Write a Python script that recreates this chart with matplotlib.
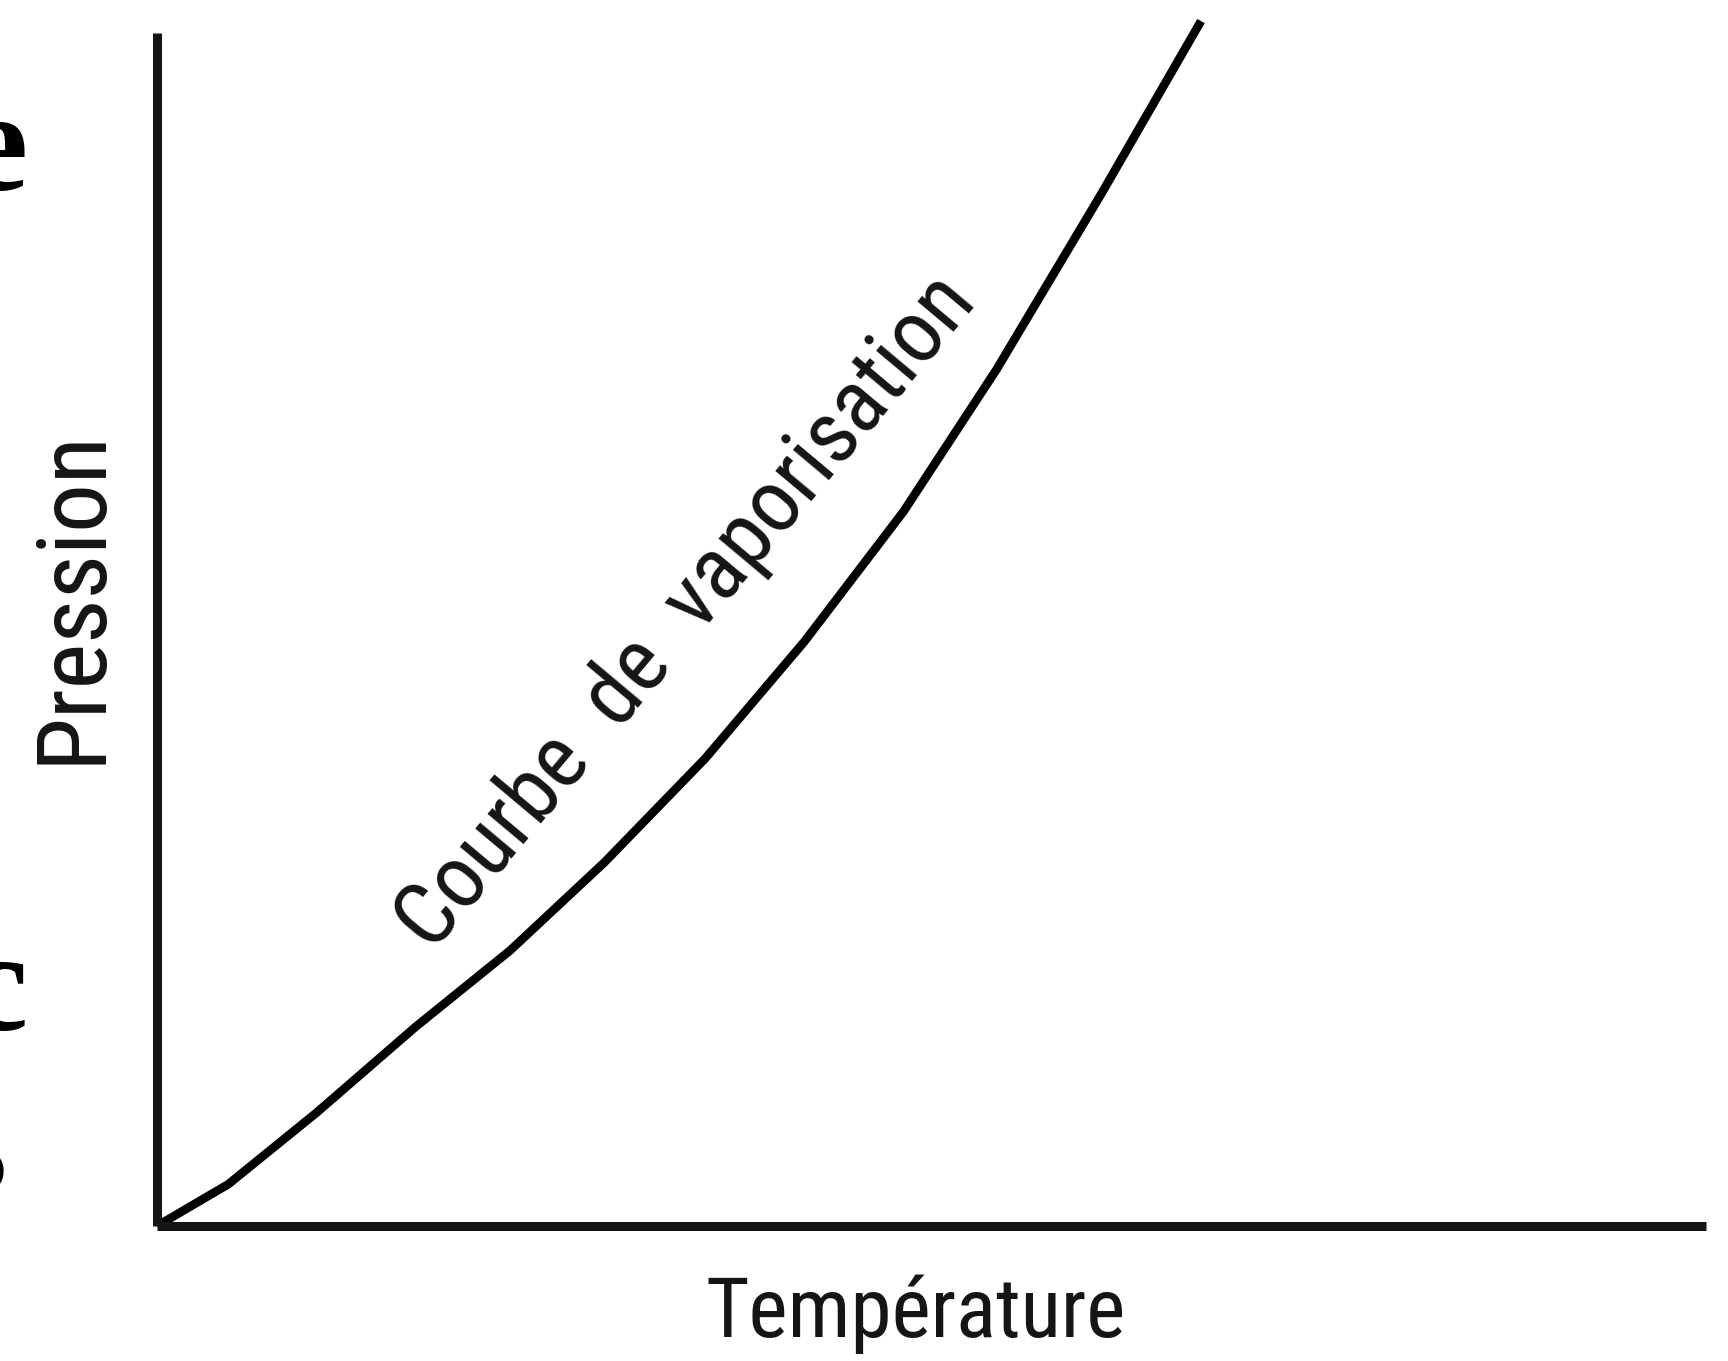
import os
import numpy as np
import matplotlib
matplotlib.use('Agg')
import matplotlib.pyplot as plt
from matplotlib import font_manager

# courbe de vaporisation (unites arbitraires, axes 0-100)
temperature = [0, 4.6, 10.3, 16.7, 22.8, 28.9, 35.4, 41.8, 48.2, 54.2, 61.0, 67.4]
pression = [0, 3.5, 9.5, 16.7, 23.1, 30.5, 39.2, 49.0, 59.9, 71.8, 86.6, 101.0]

x_label = 'Température'
y_label = 'Pression'
curve_label = 'Courbe  de  vaporisation'
# morceaux de lettres du texte voisin, coupes au bord gauche
edge_letters = ['e', 'c', 's']

W, H = 1728, 1361
ink = '#151515'


def narrow_font():
    # police etroite si dispo (le modele est en Helvetica condensed)
    prefs = ['liberationsansnarrow-regular', 'robotocondensed-regular',
             'dejavusanscondensed.', 'opensans_condensed-regular',
             'opensans-condensedregular', 'notosans-condensedregular']
    files = [f.fname for f in font_manager.fontManager.ttflist]
    for p in prefs:
        for fn in files:
            if os.path.basename(fn).lower().startswith(p):
                return font_manager.FontProperties(fname=fn)
    for fn in files:
        b = os.path.basename(fn).lower()
        if ('narrow' in b or 'condensed' in b) and not any(
                k in b for k in ['bold', 'italic', 'oblique', 'light', 'thin',
                                 'black', 'medium', 'semi', 'extra', 'mono', 'serif']):
            return font_manager.FontProperties(fname=fn)
    return font_manager.FontProperties(family=['Liberation Sans', 'DejaVu Sans'])


def fx(px):
    return px / W


def fy(py):
    return 1 - py / H


def fit(t, width_px, rot):
    # ajuste la taille pour retrouver la longueur du texte du modele
    r = fig.canvas.get_renderer()
    w = t.get_window_extent(r).width
    t.set_fontsize(t.get_fontsize() * width_px / w)
    t.set_rotation(rot)


fig = plt.figure(figsize=(W / 100, H / 100), dpi=100)
ax = fig.add_axes([fx(157), fy(1226), (1706 - 157) / W, (1226 - 33) / H])
ax.set_xlim(0, 100)
ax.set_ylim(0, 100)
for side in ['top', 'right']:
    ax.spines[side].set_visible(False)
for side in ['left', 'bottom']:
    ax.spines[side].set_linewidth(6.5)
    ax.spines[side].set_color(ink)
    ax.spines[side].set_capstyle('butt')
ax.set_xticks([])
ax.set_yticks([])

ax.plot(temperature, pression, color='black', lw=6.2, clip_on=False,
        solid_capstyle='butt', solid_joinstyle='round')

fp = narrow_font()
t1 = fig.text(fx(74), fy(596), y_label, ha='center', va='center',
              fontproperties=fp, fontsize=60, color=ink)
fit(t1, 336, 90)
t2 = fig.text(fx(916), fy(1337), x_label, ha='center', va='baseline',
              fontproperties=fp, fontsize=60, color=ink)
fit(t2, 421, 0)
t3 = fig.text(fx(686), fy(612), curve_label, rotation_mode='anchor',
              ha='center', va='center', fontproperties=fp, fontsize=60, color=ink)
fit(t3, 850, 50)

# lettres coupees (police a empattements)
for letter, (px, py) in zip(edge_letters, [(28, 190), (28, 1030), (7, 1192)]):
    fig.text(fx(px), fy(py), letter, ha='right', va='baseline', fontsize=104,
             fontweight='bold', family=['Liberation Serif', 'DejaVu Serif'],
             color='black')

fig.savefig('out.png', dpi=100, facecolor='white')
